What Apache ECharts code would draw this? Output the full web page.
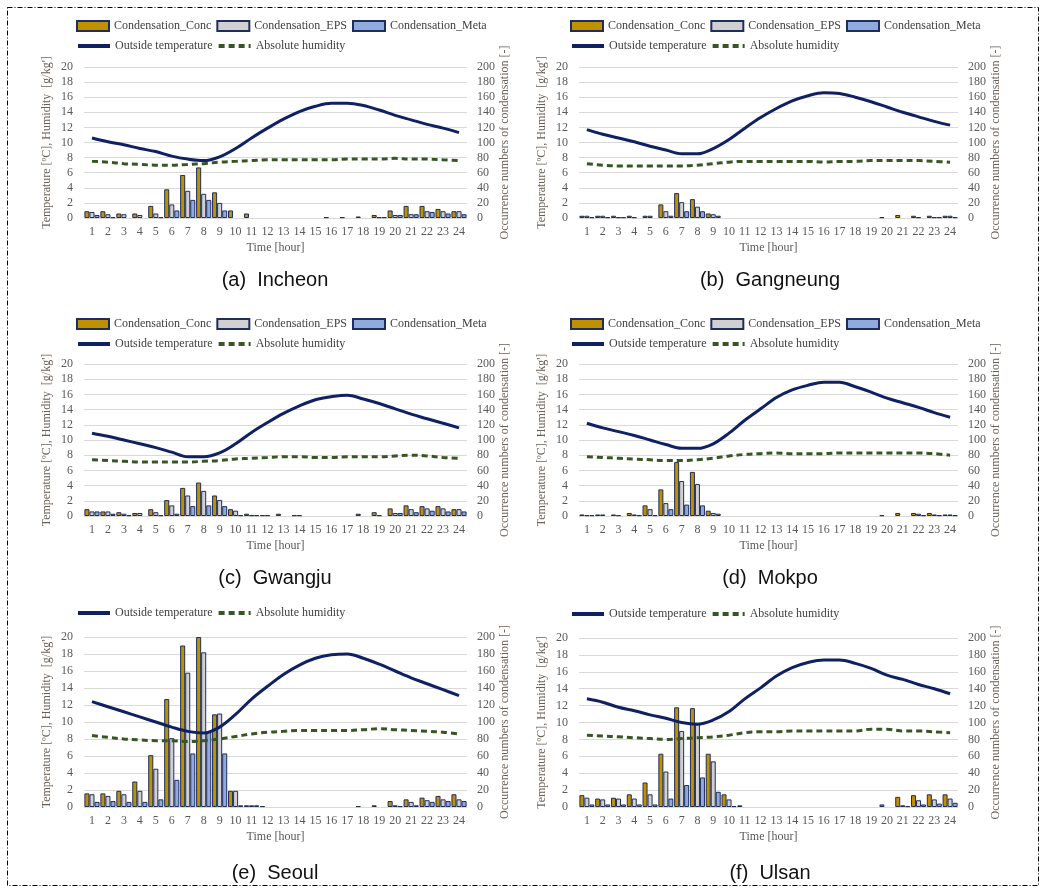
<!DOCTYPE html>
<html><head><meta charset="utf-8">
<script src="https://cdn.jsdelivr.net/npm/echarts@6/dist/echarts.min.js"></script>
<style>html,body{margin:0;padding:0;background:#fff}#c{width:1051px;height:889px}</style>
</head><body><div id="c"></div><script>
const hours = ['1','2','3','4','5','6','7','8','9','10','11','12','13','14','15','16','17','18','19','20','21','22','23','24'];
const leftTicks = [0,2,4,6,8,10,12,14,16,18,20];
const rightTicks = [0,20,40,60,80,100,120,140,160,180,200];
const captions = ['(a)  Incheon','(b)  Gangneung','(c)  Gwangju','(d)  Mokpo','(e)  Seoul','(f)  Ulsan'];

// (a) Incheon
const incheonConc = [9,9,6,6,16,38,57,67,34,10,6,0,0,0,0,1,1,2,4,10,16,16,12,9];
const incheonEPS  = [8,5,5,4,6,18,36,32,20,0,0,0,0,0,0,0,0,0,1,4,5,9,9,9];
const incheonMeta = [4,1,0,0,1,10,24,24,10,0,0,0,0,0,0,0,0,0,1,4,5,8,6,5];
const incheonTemp = [10.6,10.1,9.7,9.2,8.8,8.2,7.8,7.6,8.1,9.2,10.6,11.9,13.1,14.1,14.8,15.2,15.2,14.9,14.3,13.6,13.0,12.4,11.9,11.3];
const incheonHum  = [7.5,7.4,7.2,7.1,7.0,7.0,7.1,7.2,7.4,7.5,7.6,7.7,7.7,7.7,7.7,7.7,7.8,7.8,7.8,7.9,7.8,7.8,7.7,7.6];

// (b) Gangneung
const gangneungConc = [3,3,3,3,3,18,33,25,6,0,0,0,0,0,0,0,0,0,0,1,4,3,3,3];
const gangneungEPS  = [3,3,1,1,3,9,21,15,5,0,0,0,0,0,0,0,0,0,0,0,0,1,1,3];
const gangneungMeta = [1,1,1,0,0,3,9,9,3,0,0,0,0,0,0,0,0,0,0,0,0,0,1,1];
const gangneungTemp = [11.7,11.1,10.6,10.1,9.5,9.0,8.5,8.5,9.2,10.4,11.9,13.3,14.5,15.5,16.2,16.6,16.5,16.0,15.4,14.7,14.0,13.4,12.8,12.3];
const gangneungHum  = [7.2,7.0,6.9,6.9,6.9,6.9,6.9,7.0,7.2,7.4,7.5,7.5,7.5,7.5,7.5,7.4,7.5,7.5,7.6,7.6,7.6,7.6,7.5,7.4];

// (c) Gwangju
const gwangjuConc = [9,6,5,4,9,21,37,44,27,9,3,1,3,1,0,0,0,3,5,10,14,13,13,9];
const gwangjuEPS  = [6,6,3,4,5,14,27,33,21,7,1,1,0,1,0,0,0,0,1,4,9,10,10,9];
const gwangjuMeta = [6,3,1,0,1,3,13,14,13,1,1,0,0,0,0,0,0,0,0,4,5,7,6,6];
const gwangjuTemp = [10.9,10.5,10.0,9.5,9.0,8.4,7.8,7.8,8.3,9.5,11.0,12.3,13.5,14.5,15.3,15.7,15.9,15.4,14.8,14.1,13.4,12.8,12.2,11.6];
const gwangjuHum  = [7.4,7.3,7.2,7.1,7.1,7.1,7.1,7.2,7.3,7.5,7.6,7.7,7.8,7.8,7.7,7.7,7.8,7.8,7.8,7.9,8.0,7.9,7.7,7.6];

// (d) Mokpo
const mokpoConc = [2,2,2,4,14,35,71,58,7,0,0,0,0,0,0,0,0,0,0,1,4,4,4,2];
const mokpoEPS  = [1,2,1,2,9,17,46,42,4,0,0,0,0,0,0,0,0,0,0,0,0,3,2,2];
const mokpoMeta = [1,0,0,1,1,9,15,14,3,0,0,0,0,0,0,0,0,0,0,0,0,1,1,1];
const mokpoTemp = [12.2,11.6,11.1,10.6,10.0,9.4,8.9,8.9,9.5,10.9,12.6,14.1,15.6,16.6,17.2,17.6,17.6,17.0,16.3,15.5,14.9,14.3,13.6,13.0];
const mokpoHum  = [7.8,7.7,7.6,7.5,7.4,7.3,7.3,7.4,7.6,7.9,8.1,8.2,8.3,8.2,8.2,8.2,8.3,8.3,8.3,8.3,8.3,8.3,8.2,8.0];

// (e) Seoul
const seoulConc = [16,16,19,30,61,127,190,200,109,19,2,1,0,0,0,0,0,1,2,7,9,11,13,15];
const seoulEPS  = [15,13,15,19,45,81,158,182,110,19,2,0,0,0,0,0,0,0,0,2,6,8,9,9];
const seoulMeta = [6,7,6,6,9,32,63,89,63,2,2,0,0,0,0,0,0,0,0,1,2,6,7,7];
const seoulTemp = [12.4,11.8,11.2,10.6,10.0,9.4,8.9,8.7,9.4,10.9,12.7,14.2,15.6,16.7,17.5,17.9,18.0,17.5,16.8,16.0,15.2,14.5,13.8,13.1];
const seoulHum  = [8.4,8.2,8.0,7.9,7.8,7.8,7.7,7.8,8.0,8.3,8.6,8.8,8.9,9.0,9.0,9.0,9.0,9.1,9.2,9.1,9.0,8.9,8.8,8.6];

// (f) Ulsan
const ulsanConc = [14,10,11,15,29,63,118,117,63,15,2,0,0,0,0,0,0,0,0,3,12,14,15,15];
const ulsanEPS  = [11,9,10,10,15,42,90,98,54,9,0,0,0,0,0,0,0,0,0,0,2,8,9,10];
const ulsanMeta = [3,3,3,3,3,10,26,35,18,1,0,0,0,0,0,0,0,0,0,0,1,3,4,5];
const ulsanTemp = [12.8,12.4,11.8,11.4,10.9,10.5,10.0,9.8,10.3,11.3,12.8,14.1,15.5,16.5,17.1,17.4,17.4,17.0,16.4,15.6,15.1,14.5,14.0,13.4];
const ulsanHum  = [8.5,8.4,8.3,8.2,8.1,8.0,8.1,8.2,8.3,8.5,8.8,8.9,8.9,9.0,9.0,9.0,9.0,9.0,9.2,9.2,9.0,9.0,8.9,8.8];

const panelData = [
  [incheonConc, incheonEPS, incheonMeta, incheonTemp, incheonHum],
  [gangneungConc, gangneungEPS, gangneungMeta, gangneungTemp, gangneungHum],
  [gwangjuConc, gwangjuEPS, gwangjuMeta, gwangjuTemp, gwangjuHum],
  [mokpoConc, mokpoEPS, mokpoMeta, mokpoTemp, mokpoHum],
  [seoulConc, seoulEPS, seoulMeta, seoulTemp, seoulHum],
  [ulsanConc, ulsanEPS, ulsanMeta, ulsanTemp, ulsanHum]
];

// layout (positions only)
const layout = [
  {left:84, width:383, top:67, height:151, legX:76, legY1:27, legY2:47, capX:275, capY:280, bars:true},
  {left:579, width:379, top:67, height:151, legX:570, legY1:27, legY2:47, capX:770, capY:280, bars:true},
  {left:84, width:383, top:364, height:152, legX:76, legY1:325, legY2:345, capX:275, capY:578, bars:true},
  {left:579, width:379, top:364, height:152, legX:570, legY1:325, legY2:345, capX:770, capY:578, bars:true},
  {left:84, width:383, top:637, height:170, legX:76, legY2:614, capX:275, capY:873, bars:false},
  {left:579, width:379, top:638, height:169, legX:570, legY2:615, capX:770, capY:873, bars:false}
];

const SERIF = '"Liberation Serif","Times New Roman",serif';
const barNames = ['Condensation_Conc','Condensation_EPS','Condensation_Meta'];
const lineNames = ['Outside temperature','Absolute humidity'];
const barColors = ['#bf9000','#d0d0d0','#8faadc'];
const borderCol = '#1f2d5c';

const grid=[], xAxis=[], yAxis=[], series=[], legend=[], graphic=[];
const nz = v => v === 0 ? '-' : v;

layout.forEach((L,i)=>{
  const d = panelData[i];
  grid.push({left:L.left, top:L.top, width:L.width, height:L.height, containLabel:false});
  xAxis.push({type:'category', gridIndex:i, data:hours, axisTick:{show:false}, axisLine:{show:false},
    axisLabel:{fontFamily:SERIF, fontSize:12, color:'#595959', margin:8},
    name:'Time [hour]', nameLocation:'middle', nameGap:24,
    nameTextStyle:{fontFamily:SERIF, fontSize:12, color:'#595959'}});
  yAxis.push({type:'value', gridIndex:i, min:leftTicks[0], max:leftTicks[leftTicks.length-1], interval:2,
    axisLine:{show:false}, axisTick:{show:false},
    axisLabel:{fontFamily:SERIF, fontSize:12, color:'#595959', margin:11},
    splitLine:{lineStyle:{color:'#d9d9d9', width:1}},
    name:"Temperature [ºC], Humidity  [g/kg']", nameLocation:'middle', nameGap:31,
    nameTextStyle:{fontFamily:SERIF, fontSize:12, color:'#6b6058'}});
  yAxis.push({type:'value', gridIndex:i, position:'right', min:rightTicks[0], max:rightTicks[rightTicks.length-1], interval:20,
    axisLine:{show:false}, axisTick:{show:false}, splitLine:{show:false},
    axisLabel:{fontFamily:SERIF, fontSize:12, color:'#595959', margin:10},
    name:'Occurrence numbers of condensation [-]', nameLocation:'middle', nameGap:31,
    nameTextStyle:{fontFamily:SERIF, fontSize:12, color:'#6b6058'}});
  barNames.forEach((n,k)=>{
    series.push({type:'bar', name:n, xAxisIndex:i, yAxisIndex:2*i+1, data:d[k].map(nz),
      barGap:'0%', barCategoryGap:'5%',
      itemStyle:{color:barColors[k], borderColor:borderCol, borderWidth:1}, z:2});
  });
  series.push({type:'line', name:lineNames[0], xAxisIndex:i, yAxisIndex:2*i, data:d[3], smooth:0.35,
    symbol:'none', lineStyle:{color:'#0f2163', width:3}, itemStyle:{color:'#0f2163'}, z:5});
  series.push({type:'line', name:lineNames[1], xAxisIndex:i, yAxisIndex:2*i, data:d[4], smooth:0.35,
    symbol:'none', lineStyle:{color:'#375623', width:3, type:[6,4]}, itemStyle:{color:'#375623'}, z:5});
  if (L.bars) {
    legend.push({data:barNames, left:L.legX, top:L.legY1-7, padding:0, itemGap:5, itemWidth:32, itemHeight:10,
      icon:'rect', selectedMode:false, textStyle:{fontFamily:SERIF, fontSize:12, color:'#404040'}});
  }
  legend.push({data:lineNames, left:L.legX, top:L.legY2-7, padding:0, itemGap:4, itemWidth:32, itemHeight:10,
    selectedMode:false, itemStyle:{opacity:0}, lineStyle:{width:4},
    textStyle:{fontFamily:SERIF, fontSize:12, color:'#404040'}});
  graphic.push({type:'text', x:L.capX, y:L.capY, style:{text:captions[i], textAlign:'center', textVerticalAlign:'middle',
    font:'20px "Liberation Sans", Arial, sans-serif', fill:'#111'}});
});

graphic.push({type:'rect', shape:{x:7.5, y:7.5, width:1031, height:878},
  style:{fill:null, stroke:'#000', lineWidth:1, lineDash:[5,2,1,2]}, z:-1});

const chart = echarts.init(document.getElementById('c'), null, {renderer:'canvas'});
chart.setOption({animation:false, backgroundColor:'#fff', grid, xAxis, yAxis, series, legend, graphic});
</script></body></html>
